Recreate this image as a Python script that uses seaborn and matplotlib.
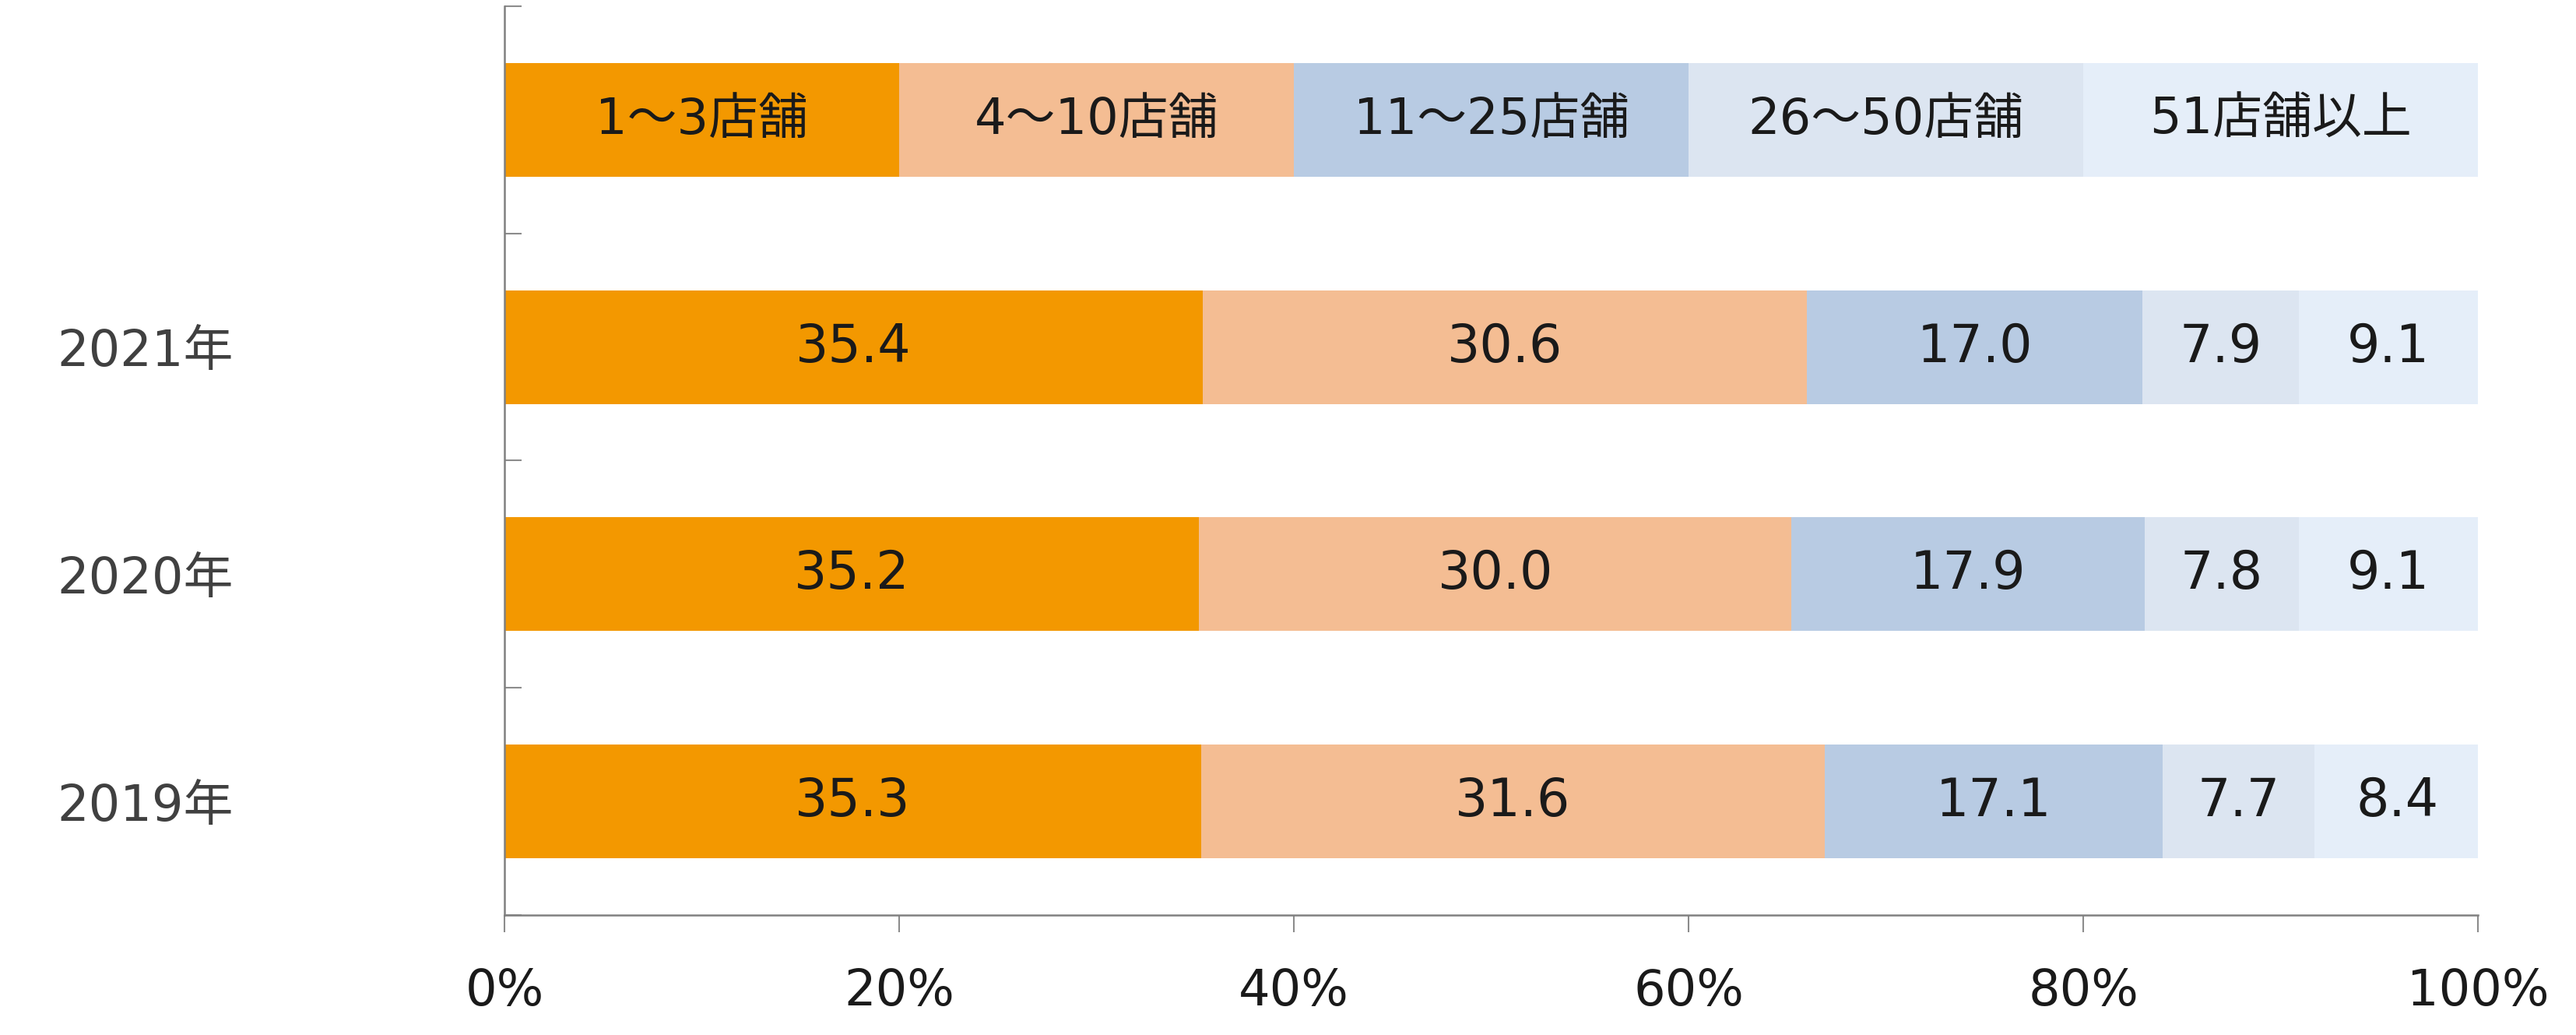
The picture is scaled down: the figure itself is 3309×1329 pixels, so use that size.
import numpy as np
import pandas as pd
import matplotlib
matplotlib.use("Agg")
import matplotlib.pyplot as plt
import seaborn as sns

# 店舗数の構成比（%）
years = ["2021年", "2020年", "2019年"]
series = ["1～3店舗", "4～10店舗", "11～25店舗", "26～50店舗", "51店舗以上"]
v_1_3 = [35.4, 35.2, 35.3]
v_4_10 = [30.6, 30.0, 31.6]
v_11_25 = [17.0, 17.9, 17.1]
v_26_50 = [7.9, 7.8, 7.7]
v_51 = [9.1, 9.1, 8.4]
xticks = [0, 20, 40, 60, 80, 100]
xtick_labels = ["0%", "20%", "40%", "60%", "80%", "100%"]

colors = ["#F39800", "#F4BD93", "#B8CBE3", "#DCE5F1", "#E5EEF9"]

sns.set_style("white")
# 数字は Verdana 風の DejaVu Sans、漢字は Noto Sans CJK JP
plt.rcParams["font.family"] = ["DejaVu Sans", "Noto Sans CJK JP"]

# 一番上の段は凡例として使う（各系列を均等幅で表示）
rows = ["凡例"] + years
legend_vals = [100 / len(series)] * len(series)
table = pd.DataFrame(
    [legend_vals] + [list(r) for r in zip(v_1_3, v_4_10, v_11_25, v_26_50, v_51)],
    index=rows, columns=series)
cum = table.cumsum(axis=1)

fig = plt.figure(figsize=(33.09, 13.29), dpi=100)
ax = fig.add_axes([0.1958, 0.1159, 0.962 - 0.1958, 0.994 - 0.1159])

# 積み上げ：右端の累計から順に重ねて描く
for s, c in reversed(list(zip(series, colors))):
    sns.barplot(x=cum[s].values, y=rows, order=rows, color=c, orient="h",
                width=0.5, linewidth=0, saturation=1, ax=ax)

# ラベル
for i, row in enumerate(rows):
    left = 0
    for j, s in enumerate(series):
        w = table.loc[row, s]
        txt = s if i == 0 else f"{w:.1f}"
        ax.text(left + w / 2, i, txt, ha="center", va="center",
                fontsize=46 if i == 0 else 48, color="#1a1a1a")
        left += w

ax.set_xlim(0, 100)
ax.set_ylim(len(rows) - 0.5, -0.5)
ax.set_xticks(xticks)
ax.set_xticklabels(xtick_labels, fontsize=46, color="#1a1a1a")
ax.tick_params(axis="x", direction="out", length=16, width=1.5, color="#8c8c8c",
               pad=32, bottom=True)

# 目盛りは段の境界、年ラベルは段の中央
ax.set_yticks(np.arange(len(rows) + 1) - 0.5)
ax.set_yticklabels([])
ax.set_yticks(np.arange(1, len(rows)), minor=True)
ax.set_yticklabels(years, minor=True, fontsize=46, color="#404040", ha="center")
ax.tick_params(axis="y", which="major", direction="in", length=16, width=1.5,
               color="#8c8c8c", left=True)
ax.tick_params(axis="y", which="minor", length=0, pad=332)
ax.set_xlabel("")
ax.set_ylabel("")

for side in ["top", "right"]:
    ax.spines[side].set_visible(False)
for side in ["left", "bottom"]:
    ax.spines[side].set_color("#808080")
    ax.spines[side].set_linewidth(1.8)

fig.savefig("out.png", dpi=100)
